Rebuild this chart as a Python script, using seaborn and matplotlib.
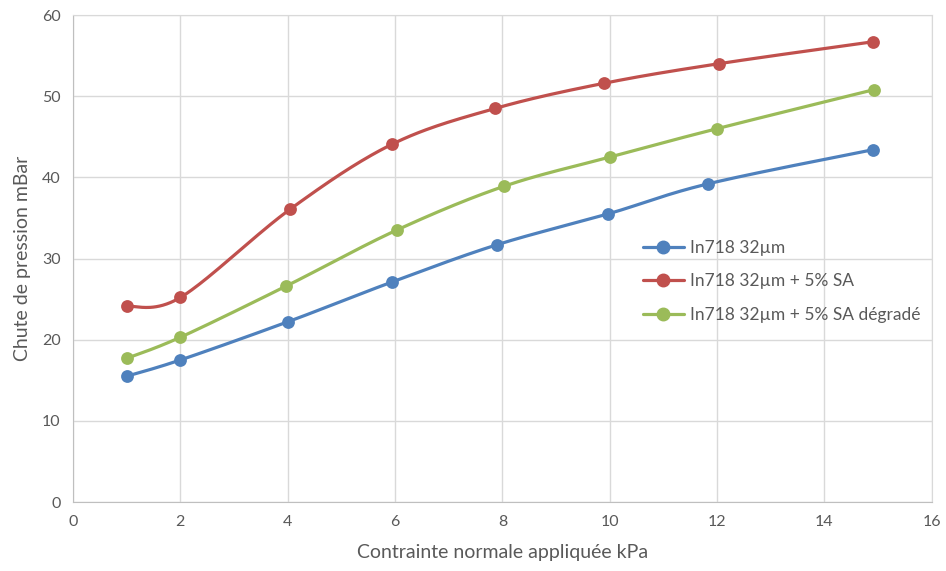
import numpy as np
import pandas as pd
import matplotlib
matplotlib.use("Agg")
import matplotlib.pyplot as plt
from matplotlib.lines import Line2D
import seaborn as sns

# data
series_names = ["In718 32µm", "In718 32µm + 5% SA", "In718 32µm + 5% SA dégradé"]
x_blue = [1.0, 2.0, 4.0, 5.94, 7.9, 9.97, 11.83, 14.9]
y_blue = [15.5, 17.5, 22.2, 27.1, 31.7, 35.5, 39.2, 43.4]
x_red = [1.0, 2.0, 4.05, 5.95, 7.87, 9.9, 12.03, 14.9]
y_red = [24.1, 25.2, 36.1, 44.1, 48.5, 51.6, 54.0, 56.7]
x_green = [1.0, 2.0, 3.97, 6.03, 8.03, 10.0, 12.0, 14.92]
y_green = [17.7, 20.3, 26.6, 33.5, 38.9, 42.5, 46.0, 50.8]
colors = ["#4F81BD", "#C0504D", "#9BBB59"]

x_ticks = list(range(0, 17, 2))
y_ticks = list(range(0, 61, 10))


def smooth(xs, ys, n=40):
    # Excel style smoothed line (bezier through points)
    p = np.column_stack([xs, ys])
    p = np.vstack([p[0], p, p[-1]])
    out = []
    t = np.linspace(0, 1, n)[:, None]
    for i in range(1, len(p) - 2):
        a, b = p[i], p[i + 1]
        c1 = a + (p[i + 1] - p[i - 1]) / 6
        c2 = b - (p[i + 2] - p[i]) / 6
        seg = (1 - t) ** 3 * a + 3 * (1 - t) ** 2 * t * c1 + 3 * (1 - t) * t ** 2 * c2 + t ** 3 * b
        out.append(seg if i == 1 else seg[1:])
    out = np.vstack(out)
    return out[:, 0], out[:, 1]


sns.set_style("white")
plt.rcParams["font.family"] = ["Lato", "DejaVu Sans"]

fig = plt.figure(figsize=(9.46, 5.71), dpi=100)
ax = fig.add_axes([0.0772, 0.1208, 0.9078, 0.8529])

text_col = "#595959"
all_x = [x_blue, x_red, x_green]
all_y = [y_blue, y_red, y_green]

handles = []
for name, xs, ys, col in zip(series_names, all_x, all_y, colors):
    cx, cy = smooth(xs, ys)
    curve = pd.DataFrame({"x": cx, "y": cy})
    sns.lineplot(data=curve, x="x", y="y", sort=False, estimator=None,
                 color=col, linewidth=2.3, ax=ax, zorder=3)
    pts = pd.DataFrame({"x": xs, "y": ys})
    sns.scatterplot(data=pts, x="x", y="y", color=col, s=85,
                    edgecolor=col, linewidth=0, ax=ax, zorder=4)
    handles.append(Line2D([0], [0], color=col, linewidth=2.3, marker="o",
                          markersize=9, label=name))

ax.set_xlim(0, 16)
ax.set_ylim(0, 60)
ax.set_xticks(x_ticks)
ax.set_yticks(y_ticks)
ax.grid(True, color="#D9D9D9", linewidth=1)
ax.set_axisbelow(True)
for s in ax.spines.values():
    s.set_color("#D9D9D9")
ax.spines["left"].set_color("#BFBFBF")
ax.spines["bottom"].set_color("#BFBFBF")
ax.tick_params(axis="both", length=0, labelsize=11.5, colors=text_col, pad=9)

ax.set_xlabel("Contrainte normale appliquée kPa", fontsize=14, color=text_col, labelpad=11)
ax.set_ylabel("Chute de pression mBar", fontsize=14, color=text_col, labelpad=8)

leg = ax.legend(handles=handles, loc="upper left", bbox_to_anchor=(0.645, 0.57),
                frameon=False, fontsize=12.5, labelspacing=1.0, handlelength=2.4,
                handletextpad=0.35, labelcolor=text_col)

fig.savefig("out.png", dpi=100)
